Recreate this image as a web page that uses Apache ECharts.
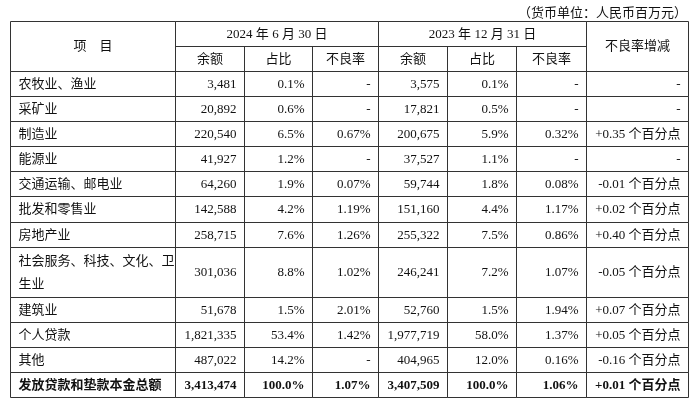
<!DOCTYPE html>
<html><head><meta charset="utf-8">
<script src="https://cdn.jsdelivr.net/npm/echarts@6/dist/echarts.min.js"></script>
<style>html,body{margin:0;padding:0;background:#fff}#c{width:700px;height:404px}</style>
</head><body><div id="c"></div>
<script>
// ---- data ----
const unitNote = '（货币单位：人民币百万元）';
const headLabel = '项　目';
const period2024 = '2024 年 6 月 30 日';
const period2023 = '2023 年 12 月 31 日';
const changeLabel = '不良率增减';
const subHeaders = ['余额', '占比', '不良率'];
const categories = ['农牧业、渔业', '采矿业', '制造业', '能源业', '交通运输、邮电业', '批发和零售业', '房地产业', '社会服务、科技、文化、卫生业', '建筑业', '个人贷款', '其他', '发放贷款和垫款本金总额'];
const balance2024 = [3481, 20892, 220540, 41927, 64260, 142588, 258715, 301036, 51678, 1821335, 487022, 3413474];
const share2024 = [0.1, 0.6, 6.5, 1.2, 1.9, 4.2, 7.6, 8.8, 1.5, 53.4, 14.2, 100.0];
const npl2024 = [null, null, 0.67, null, 0.07, 1.19, 1.26, 1.02, 2.01, 1.42, null, 1.07];
const balance2023 = [3575, 17821, 200675, 37527, 59744, 151160, 255322, 246241, 52760, 1977719, 404965, 3407509];
const share2023 = [0.1, 0.5, 5.9, 1.1, 1.8, 4.4, 7.5, 7.2, 1.5, 58.0, 12.0, 100.0];
const npl2023 = [null, null, 0.32, null, 0.08, 1.17, 0.86, 1.07, 1.94, 1.37, 0.16, 1.06];
const nplChange = [null, null, 0.35, null, -0.01, 0.02, 0.40, -0.05, 0.07, 0.05, -0.16, 0.01];

// ---- layout ----
const colEdges = [0, 165, 234, 302, 368, 437, 506, 576, 678];
const rowUnits = [1, 1, 1, 1, 1, 1, 1, 2, 1, 1, 1, 1];
const FONT = "'Liberation Serif','Noto Sans CJK SC',serif";

const fmtInt = v => v.toLocaleString('en-US');
const fmtShare = v => v.toFixed(1) + '%';
const fmtNpl = v => v == null ? '-' : v.toFixed(2) + '%';
const fmtChg = v => v == null ? '-' : (v > 0 ? '+' : '') + v.toFixed(2) + ' 个百分点';

const cells = [];
function addCell(c0, c1, r0, r1, text, align, bold) { cells.push({c0, c1, r0, r1, text, align, bold: !!bold}); }
addCell(0, 1, 0, 2, headLabel, 'center');
addCell(1, 4, 0, 1, period2024, 'center');
addCell(4, 7, 0, 1, period2023, 'center');
addCell(7, 8, 0, 2, changeLabel, 'center');
subHeaders.forEach((t, i) => { addCell(1 + i, 2 + i, 1, 2, t, 'center'); addCell(4 + i, 5 + i, 1, 2, t, 'center'); });
let r = 2;
categories.forEach((cat, i) => {
  const r1 = r + rowUnits[i];
  const b = i === categories.length - 1;
  addCell(0, 1, r, r1, cat, 'left', b);
  addCell(1, 2, r, r1, fmtInt(balance2024[i]), 'right', b);
  addCell(2, 3, r, r1, fmtShare(share2024[i]), 'right', b);
  addCell(3, 4, r, r1, fmtNpl(npl2024[i]), 'right', b);
  addCell(4, 5, r, r1, fmtInt(balance2023[i]), 'right', b);
  addCell(5, 6, r, r1, fmtShare(share2023[i]), 'right', b);
  addCell(6, 7, r, r1, fmtNpl(npl2023[i]), 'right', b);
  addCell(7, 8, r, r1, fmtChg(nplChange[i]), 'right', b);
  r = r1;
});
const totalRows = r;

function renderItem(params, api) {
  const cell = cells[params.dataIndex];
  const p0 = api.coord([api.value(0), api.value(1)]);
  const p1 = api.coord([api.value(2), api.value(3)]);
  const x0 = Math.round(p0[0]) + 0.5, y0 = Math.round(p0[1]) + 0.5;
  const x1 = Math.round(p1[0]) + 0.5, y1 = Math.round(p1[1]) + 0.5;
  let tx;
  if (cell.align === 'left') tx = x0 + 8;
  else if (cell.align === 'right') tx = x1 - 8;
  else tx = (x0 + x1) / 2;
  const style = {
    text: cell.text, align: cell.align, verticalAlign: 'middle',
    fontFamily: FONT, fontSize: 13, fontWeight: cell.bold ? 'bold' : 'normal',
    fill: '#111', lineHeight: 23
  };
  if (cell.align === 'left') { style.width = x1 - x0 - 6; style.overflow = 'break'; }
  return {
    type: 'group', children: [
      {type: 'rect', shape: {x: x0, y: y0, width: x1 - x0, height: y1 - y0}, style: {fill: 'none', stroke: '#333', lineWidth: 1}},
      {type: 'text', x: tx, y: (y0 + y1) / 2 + 0.5, style: style}
    ]
  };
}

const chart = echarts.init(document.getElementById('c'), null, {renderer: 'canvas'});
chart.setOption({
  animation: false,
  backgroundColor: '#fff',
  title: {text: unitNote, right: 8, top: 2, textStyle: {fontSize: 13, fontWeight: 'normal', color: '#111', fontFamily: FONT}},
  grid: {left: 10, top: 21, width: 678, height: 376},
  xAxis: {type: 'value', min: 0, max: colEdges[colEdges.length - 1], show: false},
  yAxis: {type: 'value', min: 0, max: totalRows, inverse: true, show: false},
  series: [{
    type: 'custom', renderItem: renderItem, silent: true,
    encode: {x: [0, 2], y: [1, 3]},
    data: cells.map(c => [colEdges[c.c0], c.r0, colEdges[c.c1], c.r1])
  }]
});
</script></body></html>
